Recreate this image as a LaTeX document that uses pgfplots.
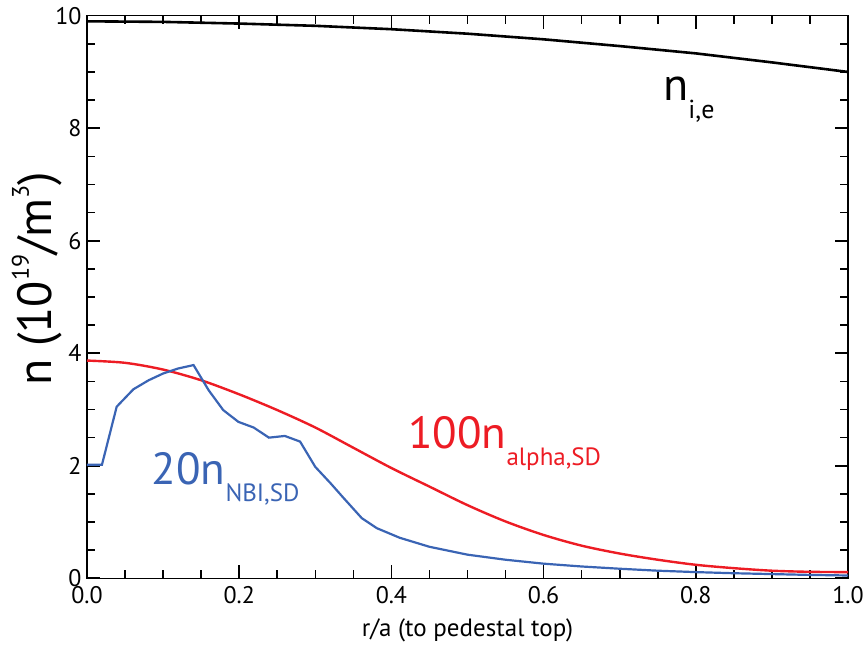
\documentclass[border=0pt]{standalone}
\usepackage{fontspec}
\setmainfont{PT Sans}
\usepackage{pgfplots}
\pgfplotsset{compat=1.18}
\definecolor{nbiblue}{RGB}{58,100,180}
\definecolor{alphared}{RGB}{237,28,36}
\begin{document}
\begin{tikzpicture}
\path (-87pt,-71.7pt) rectangle (780pt,578.3pt);
\begin{axis}[
  scale only axis, width=761pt, height=562.6pt,
  xmin=0, xmax=1, ymin=0, ymax=10,
  xtick={0,0.2,0.4,0.6,0.8,1.0},
  xticklabels={0.0,0.2,0.4,0.6,0.8,1.0},
  ytick={0,2,4,6,8,10},
  yticklabels={0,2,4,6,8,10},
  minor x tick num=3, minor y tick num=3,
  tickwidth=13pt, subtickwidth=8pt,
  tick style={black, line width=1.6pt},
  axis line style={line width=1.4pt},
  tick label style={font=\fontsize{24}{24}\selectfont},
  xticklabel style={yshift=-5pt},
  yticklabel style={xshift=-2pt},
  xlabel={r/a (to pedestal top)},
  xlabel style={font=\fontsize{25}{25}\selectfont, at={(axis description cs:0.5,0)}, anchor=base, yshift=-58pt},
  ylabel={n (10\raisebox{23pt}{\fontsize{24}{24}\selectfont 19}/m\raisebox{23pt}{\fontsize{24}{24}\selectfont 3})},
  ylabel style={font=\fontsize{48}{48}\selectfont, at={(axis description cs:-0.046,0.532)}, anchor=base},
]
\addplot[black, line width=2.6pt] coordinates {
(0,9.90) (0.1,9.89) (0.2,9.86) (0.3,9.82) (0.4,9.76) (0.5,9.68) (0.6,9.58) (0.7,9.46) (0.8,9.33) (0.9,9.17) (1.0,9.00)};
\addplot[alphared, line width=2.4pt, smooth] coordinates {
(0,3.87) (0.05,3.83) (0.1,3.71) (0.15,3.52) (0.2,3.27) (0.25,2.99) (0.3,2.68) (0.35,2.32) (0.4,1.96) (0.45,1.63) (0.5,1.30) (0.55,1.01) (0.6,0.77) (0.65,0.58) (0.7,0.44) (0.75,0.33) (0.8,0.24) (0.85,0.18) (0.9,0.135) (0.95,0.115) (1.0,0.11)};
\addplot[nbiblue, line width=2.2pt] coordinates {
(0,2.02) (0.0197,2.02) (0.039,3.05) (0.061,3.36) (0.081,3.52) (0.10,3.64) (0.12,3.73) (0.14,3.79) (0.16,3.34) (0.179,2.99) (0.199,2.78) (0.219,2.68) (0.239,2.50) (0.26,2.53) (0.28,2.43) (0.30,1.98) (0.32,1.69) (0.337,1.43) (0.361,1.07) (0.381,0.89) (0.411,0.72) (0.45,0.56) (0.5,0.42) (0.55,0.33) (0.6,0.26) (0.65,0.21) (0.7,0.17) (0.75,0.135) (0.8,0.11) (0.85,0.09) (0.9,0.075) (0.95,0.06) (1.0,0.05)};
\node[anchor=base west, text=black, inner sep=0pt] at (axis cs:0.757,8.50) {\fontsize{46}{46}\selectfont n\raisebox{-18pt}{\fontsize{26}{26}\selectfont i,e}};
\node[anchor=base west, text=nbiblue, inner sep=0pt] at (axis cs:0.085,1.66) {\fontsize{45}{45}\selectfont 20n\raisebox{-17pt}{\fontsize{25}{25}\selectfont NBI,SD}};
\node[anchor=base west, text=alphared, inner sep=0pt] at (axis cs:0.422,2.31) {\fontsize{45}{45}\selectfont 100n\raisebox{-17pt}{\fontsize{25}{25}\selectfont alpha,SD}};
\end{axis}
\end{tikzpicture}
\end{document}
